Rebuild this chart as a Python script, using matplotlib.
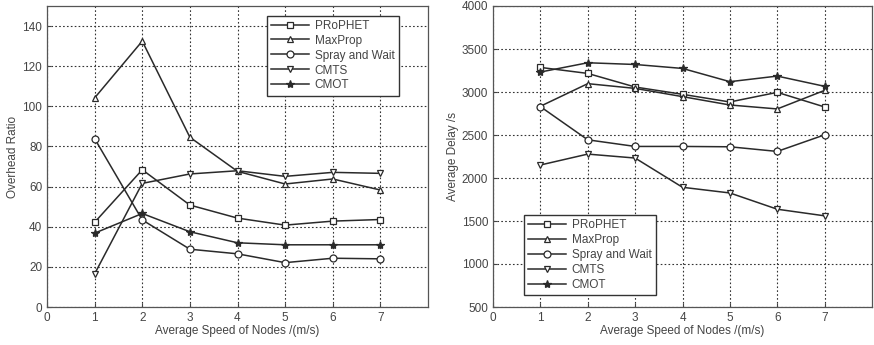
import matplotlib
matplotlib.use("Agg")
import matplotlib.pyplot as plt

plt.rcParams['font.family'] = ['Liberation Sans', 'DejaVu Sans']

speeds = [1, 2, 3, 4, 5, 6, 7]
series_names = ["PRoPHET", "MaxProp", "Spray and Wait", "CMTS", "CMOT"]
markers = ["s", "^", "o", "v", "*"]

overhead_prophet = [42.2, 68.4, 50.8, 44.3, 40.8, 42.8, 43.6]
overhead_maxprop = [104.2, 132.5, 84.6, 67.6, 61.3, 63.8, 58.3]
overhead_spray = [83.9, 43.4, 28.8, 26.5, 22.1, 24.3, 24.0]
overhead_cmts = [16.5, 61.6, 66.3, 67.9, 65.1, 67.1, 66.6]
overhead_cmot = [36.8, 46.6, 37.5, 32.0, 31.0, 31.0, 31.0]

delay_prophet = [3286, 3216, 3058, 2973, 2884, 2996, 2826]
delay_maxprop = [2834, 3097, 3042, 2946, 2849, 2803, 3019]
delay_spray = [2830, 2444, 2367, 2367, 2363, 2309, 2502]
delay_cmts = [2151, 2278, 2232, 1892, 1826, 1637, 1560]
delay_cmot = [3232, 3340, 3320, 3274, 3120, 3185, 3066]

overhead = [overhead_prophet, overhead_maxprop, overhead_spray, overhead_cmts, overhead_cmot]
delay = [delay_prophet, delay_maxprop, delay_spray, delay_cmts, delay_cmot]

fig = plt.figure(figsize=(8.74, 3.45), dpi=100)
ax1 = fig.add_axes([47/874, 1-307/345, 381/874, 301/345])
ax2 = fig.add_axes([493/874, 1-307/345, 379/874, 301/345])

line_color = "#2a2a2a"
text_color = "#444444"

def draw(ax, data, ylim, yticks, ylabel, legend_bbox):
    for vals, name, m in zip(data, series_names, markers):
        ms = 6 if m == "*" else 5
        ax.plot(speeds, vals, color=line_color, lw=1.1, marker=m, ms=ms,
                mfc="white" if m != "*" else line_color, mec=line_color, mew=0.9, label=name)
    ax.set_xlim(0, 8)
    ax.set_ylim(*ylim)
    ax.set_xticks(range(0, 8))
    ax.set_yticks(yticks)
    ax.grid(True, color="#333333", linestyle=(0, (1.5, 2)), linewidth=0.8)
    ax.tick_params(direction="in", labelsize=8.5, colors=text_color, length=3)
    for sp in ax.spines.values():
        sp.set_color("#555555")
        sp.set_linewidth(0.9)
    ax.set_xlabel("Average Speed of Nodes /(m/s)", fontsize=8.5, color=text_color, labelpad=1)
    ax.set_ylabel(ylabel, fontsize=8.5, color=text_color, labelpad=2)
    leg = ax.legend(loc="upper left", bbox_to_anchor=legend_bbox, fontsize=8.5,
                    frameon=True, fancybox=False, framealpha=1, edgecolor="#333333",
                    handlelength=3.2, borderpad=0.35, labelspacing=0.25, handletextpad=0.5)
    for t in leg.get_texts():
        t.set_color(text_color)

draw(ax1, overhead, (0, 150), range(0, 141, 20), "Overhead Ratio", (0.562, 0.988))
draw(ax2, delay, (500, 4000), range(500, 4001, 500), "Average Delay /s", (0.066, 0.325))

fig.savefig("out.png", dpi=100)
